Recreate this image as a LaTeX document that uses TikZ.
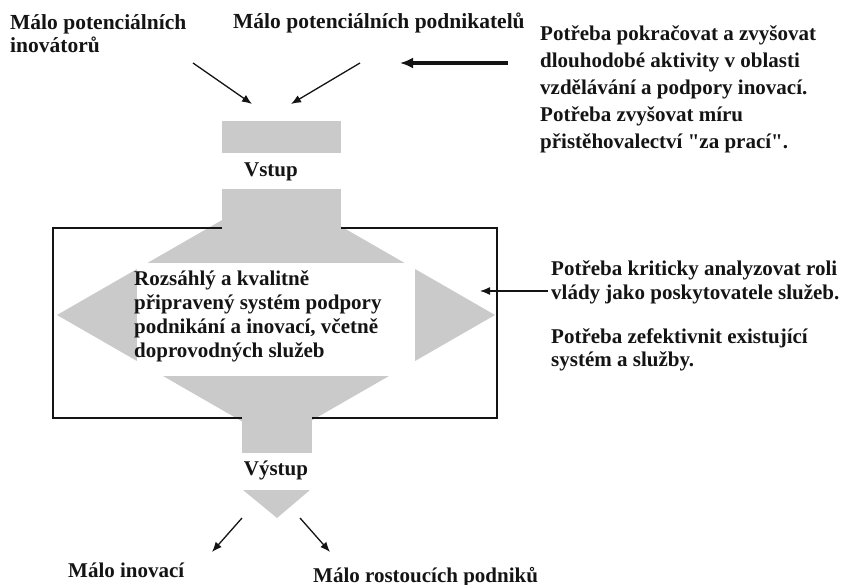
\documentclass[tikz,border=0pt]{standalone}
\usepackage{fontspec}
\setmainfont{Liberation Serif}[Ligatures=TeXOff]
\usetikzlibrary{arrows.meta}
\definecolor{funnelgray}{RGB}{202,202,202}
\definecolor{inkblack}{RGB}{20,20,20}
\begin{document}
\begin{tikzpicture}[x=1pt,y=-1pt,
  txt/.style={font=\fontsize{21}{24}\selectfont\bfseries, inner sep=0pt, align=left, text=inkblack},
  funnel/.style={fill=funnelgray, draw=none},
  framebox/.style={draw=inkblack, line width=2pt},
  conn/.style={draw=inkblack, -{Latex[length=10pt,width=8pt]}, line width=1.3pt},
  boldconn/.style={draw=inkblack, -{Latex[length=13pt,width=11pt]}, line width=3.5pt}]
\useasboundingbox (0,0) rectangle (851,585);

% central four-way shape with the white text field
\fill[funnel] (57,315) -- (276,189) -- (495,315) -- (276,441) -- cycle;
\fill[white] (137,263) rectangle (415,376);
\draw[framebox] (53,228) rectangle (497,418);

% input stem, output stem and output tip
\fill[funnel] (222,121) rectangle (341,229);
\fill[funnel] (242,416) rectangle (312,453);
\fill[funnel] (243,490) -- (310,490) -- (277,518) -- cycle;
\fill[white] (218,153) rectangle (342,189);

% labels
\node[txt, anchor=center] (vstup) at (271,172) {Vstup};
\node[txt, anchor=center] (vystup) at (276,470) {Výstup};
\node[txt, anchor=north west] (system) at (134,270)
  {Rozsáhlý a kvalitně\\připravený systém podpory\\podnikání a inovací, včetně\\doprovodných služeb};
\node[txt, anchor=north west, font=\fontsize{21.5}{23}\selectfont\bfseries] (inovatori) at (10,14)
  {Málo potenciálních\\inovátorů};
\node[txt, anchor=base west, font=\fontsize{21.5}{23}\selectfont\bfseries] (podnikatele) at (233,29) {Málo potenciálních podnikatelů};
\node[txt, anchor=north west, font=\fontsize{21}{27}\selectfont\bfseries] (vzdelavani) at (540,25)
  {Potřeba pokračovat a zvyšovat\\dlouhodobé aktivity v oblasti\\vzdělávání a podpory inovací.\\Potřeba zvyšovat míru\\přistěhovalectví "za prací".};
\node[txt, anchor=north west] (vlada) at (551,260)
  {Potřeba kriticky analyzovat roli\\vlády jako poskytovatele služeb.};
\node[txt, anchor=north west, font=\fontsize{21}{23}\selectfont\bfseries] (zefektivnit) at (551,328)
  {Potřeba zefektivnit existující\\systém a služby.};
\node[txt, anchor=base west] (inovace) at (68,577) {Málo inovací};
\node[txt, anchor=base west] (podniky) at (313,582) {Málo rostoucích podniků};

% arrow end points
\coordinate (a1s) at (193,63);  \coordinate (a1e) at (252,104);
\coordinate (a2s) at (360,63);  \coordinate (a2e) at (291,104);
\coordinate (a3s) at (508,63);  \coordinate (a3e) at (400,63);
\coordinate (a4s) at (548,291); \coordinate (a4e) at (480,291);
\coordinate (a5s) at (242,518); \coordinate (a5e) at (212,552);
\coordinate (a6s) at (300,518); \coordinate (a6e) at (330,552);

\draw[conn] (a1s) -- (a1e);
\draw[conn] (a2s) -- (a2e);
\draw[boldconn] (a3s) -- (a3e);
\draw[conn] (a4s) -- (a4e);
\draw[conn] (a5s) -- (a5e);
\draw[conn] (a6s) -- (a6e);
\end{tikzpicture}
\end{document}
